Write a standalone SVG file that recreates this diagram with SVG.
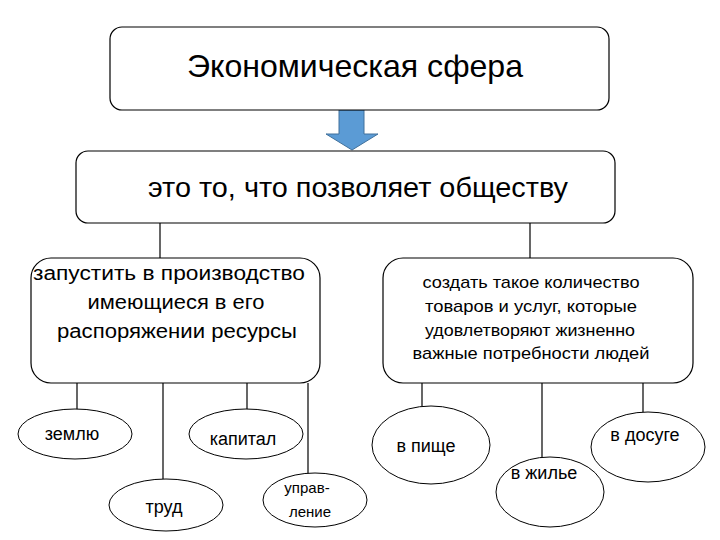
<svg xmlns="http://www.w3.org/2000/svg" width="720" height="540" viewBox="0 0 720 540">
<style>
.box{fill:#fff;stroke:#000;stroke-width:1.2}
.ell{fill:#fff;stroke:#000;stroke-width:1}
.ln{stroke:#000;stroke-width:1.2;fill:none}
text{font-family:"Liberation Sans",Arial,sans-serif;fill:#000;text-anchor:middle}
.t1{font-size:32px}
.t2{font-size:28px}
.t3{font-size:20px}
.t4{font-size:17px}
.t5{font-size:18px}
.t6{font-size:15px}
</style>
<rect width="720" height="540" fill="#fff"/>
<g id="connectors">
<line class="ln" x1="160" y1="223" x2="160" y2="258"/>
<line class="ln" x1="530" y1="223" x2="530" y2="258"/>
<line class="ln" x1="77" y1="383" x2="77" y2="410"/>
<line class="ln" x1="163" y1="383" x2="163" y2="479"/>
<line class="ln" x1="247" y1="383" x2="247" y2="410"/>
<line class="ln" x1="308" y1="383" x2="308" y2="474"/>
<line class="ln" x1="422" y1="383" x2="422" y2="406"/>
<line class="ln" x1="542" y1="383" x2="542" y2="457"/>
<line class="ln" x1="643" y1="383" x2="643" y2="412"/>
<path d="M339 110 H364 V134 H378 L352 150 L326 134 H339 Z" fill="#5B9BD5" stroke="#41719C" stroke-width="1"/>
</g>
<g id="n-sphere">
<rect class="box" x="110" y="27" width="499" height="83" rx="12"/>
<text class="t1" x="355" y="77" textLength="336" lengthAdjust="spacingAndGlyphs">Экономическая сфера</text>
</g>
<g id="n-society">
<rect class="box" x="76" y="151" width="539" height="72" rx="12"/>
<text class="t2" x="358" y="197" textLength="420" lengthAdjust="spacingAndGlyphs">это то, что позволяет обществу</text>
</g>
<g id="n-resources">
<rect class="box" x="31" y="258" width="289" height="125" rx="20"/>
<text class="t3" x="169" y="280" textLength="272" lengthAdjust="spacingAndGlyphs">запустить в производство</text>
<text class="t3" x="176" y="309" textLength="177" lengthAdjust="spacingAndGlyphs">имеющиеся в его</text>
<text class="t3" x="177" y="338" textLength="240" lengthAdjust="spacingAndGlyphs">распоряжении ресурсы</text>
</g>
<g id="n-goods">
<rect class="box" x="383" y="258" width="310" height="125" rx="20"/>
<text class="t4" x="531" y="288" textLength="217" lengthAdjust="spacingAndGlyphs">создать такое количество</text>
<text class="t4" x="531" y="312" textLength="212" lengthAdjust="spacingAndGlyphs">товаров и услуг, которые</text>
<text class="t4" x="530" y="336" textLength="210" lengthAdjust="spacingAndGlyphs">удовлетворяют жизненно</text>
<text class="t4" x="531" y="359" textLength="237" lengthAdjust="spacingAndGlyphs">важные потребности людей</text>
</g>
<g id="n-land">
<ellipse class="ell" cx="75" cy="434" rx="57" ry="25"/>
<text class="t5" x="72" y="440">землю</text>
</g>
<g id="n-capital">
<ellipse class="ell" cx="246" cy="434" rx="57" ry="25"/>
<text class="t5" x="243" y="445">капитал</text>
</g>
<g id="n-labour">
<ellipse class="ell" cx="166" cy="505" rx="57" ry="26"/>
<text class="t5" x="164" y="513">труд</text>
</g>
<g id="n-management">
<ellipse class="ell" cx="315" cy="500" rx="52" ry="27"/>
<text class="t6" x="307" y="493">управ-</text>
<text class="t6" x="310" y="517">ление</text>
</g>
<g id="n-food">
<ellipse class="ell" cx="431" cy="445" rx="59" ry="39"/>
<text class="t5" x="426" y="452">в пище</text>
</g>
<g id="n-housing">
<ellipse class="ell" cx="550" cy="492" rx="54" ry="35"/>
<text class="t5" x="544" y="479">в жилье</text>
</g>
<g id="n-leisure">
<ellipse class="ell" cx="648" cy="447" rx="57" ry="35"/>
<text class="t5" x="645" y="441">в досуге</text>
</g>
</svg>
